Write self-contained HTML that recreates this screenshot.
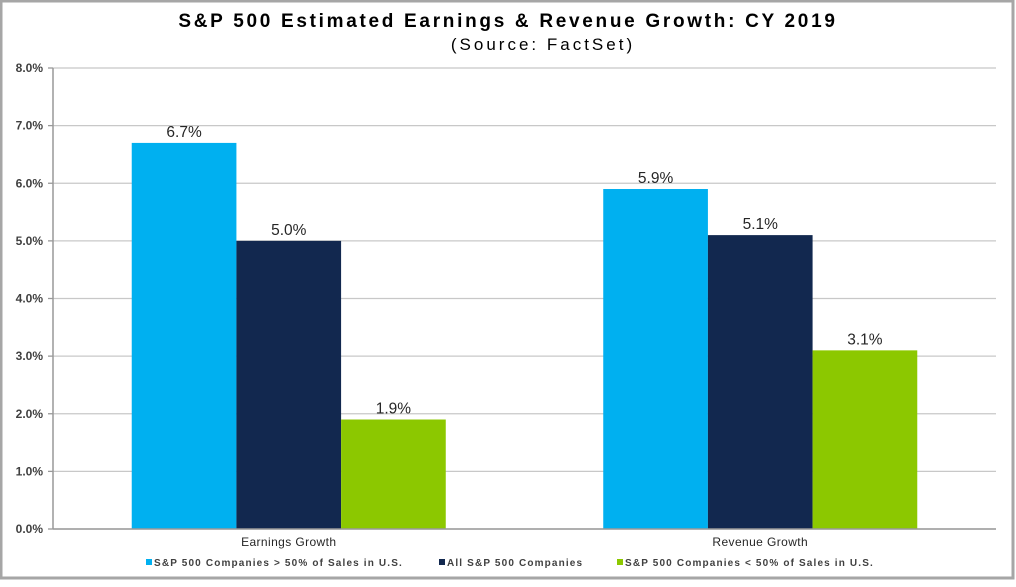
<!DOCTYPE html>
<html><head><meta charset="utf-8"><style>
body{margin:0;background:#fff;}
svg text{font-family:"Liberation Sans",Arial,sans-serif;}
</style></head><body>
<svg width="1016" height="582" xmlns="http://www.w3.org/2000/svg">
<rect x="1" y="1" width="1012" height="577" fill="#fff" stroke="#a6a6a6" stroke-width="3"/>
<text x="508" y="27" text-anchor="middle" font-size="19" font-weight="bold" fill="#000" letter-spacing="2.7">S&amp;P 500 Estimated Earnings &amp; Revenue Growth: CY 2019</text>
<text x="543" y="50" text-anchor="middle" font-size="17" fill="#000" letter-spacing="3">(Source: FactSet)</text>
<g id="grid"></g><g id="bars"></g><g id="axes"></g><g id="legend"></g>
</svg>
<script>
const categories=["Earnings Growth","Revenue Growth"];
const seriesNames=["S&P 500 Companies > 50% of Sales in U.S.","All S&P 500 Companies","S&P 500 Companies < 50% of Sales in U.S."];
const seriesColors=["#00b0f0","#12284f","#8cc800"];
const seriesAbove50=[6.7,5.9];
const seriesAll=[5.0,5.1];
const seriesBelow50=[1.9,3.1];
const yTicks=[0,1,2,3,4,5,6,7,8];
const series=[seriesAbove50,seriesAll,seriesBelow50];
const NS="http://www.w3.org/2000/svg";
const L=53,R=996,T=68,B=529,yMax=8;
const y=v=>B-(v/yMax)*(B-T);
const bandW=(R-L)/categories.length;
const xc=i=>L+bandW*(i+0.5);
const barW=bandW*0.666/3;
function mk(tag,attrs,parent){const e=document.createElementNS(NS,tag);for(const k in attrs)e.setAttribute(k,attrs[k]);document.getElementById(parent).appendChild(e);return e;}
yTicks.forEach(t=>{
 const g=mk('line',{x1:L,x2:R,y1:y(t),y2:y(t),stroke:'#c8c8c8','stroke-width':1.3},'grid');
 
 
 const tk=mk('line',{x1:L-5,x2:L,y1:y(t),y2:y(t),stroke:'#999','stroke-width':1.3},'axes');
 
 
 const lb=mk('text',{x:L-10,y:y(t)+4,'text-anchor':'end','font-size':12,'font-weight':'bold',fill:'#404040'},'axes');
 lb.textContent=t.toFixed(1)+'%';
 
 
});
const ax=mk('line',{x1:L,x2:L,y1:T,y2:B,stroke:'#999','stroke-width':1.5},'axes');


const xa=mk('line',{x1:L,x2:R,y1:B,y2:B,stroke:'#999','stroke-width':1.5},'axes');


categories.forEach((c,i)=>{
 const lb=mk('text',{x:xc(i),y:546,'text-anchor':'middle','font-size':12,fill:'#262626','letter-spacing':'0.4'},'axes');
 lb.textContent=c;
 
 
 series.forEach((s,j)=>{
  const x0=xc(i)-1.5*barW+j*barW;
  const r=mk('rect',{x:x0,y:y(s[i]),width:barW,height:B-y(s[i]),fill:seriesColors[j]},'bars');
  
  
  const v=mk('text',{x:x0+barW/2,y:y(s[i])-6,'text-anchor':'middle','font-size':15.5,fill:'#262626'},'bars');
  v.textContent=s[i].toFixed(1)+'%';
  
  
 });
});
const legX=[146,439,617];
seriesNames.forEach((n,j)=>{
 const m=mk('rect',{x:legX[j],y:559,width:6,height:6,fill:seriesColors[j]},'legend');
 
 
 const t=mk('text',{x:legX[j]+8,y:566,'font-size':10,'font-weight':'bold',fill:'#404040','letter-spacing':'1.15'},'legend');
 t.textContent=n;
 
 
});
</script>
</body></html>
